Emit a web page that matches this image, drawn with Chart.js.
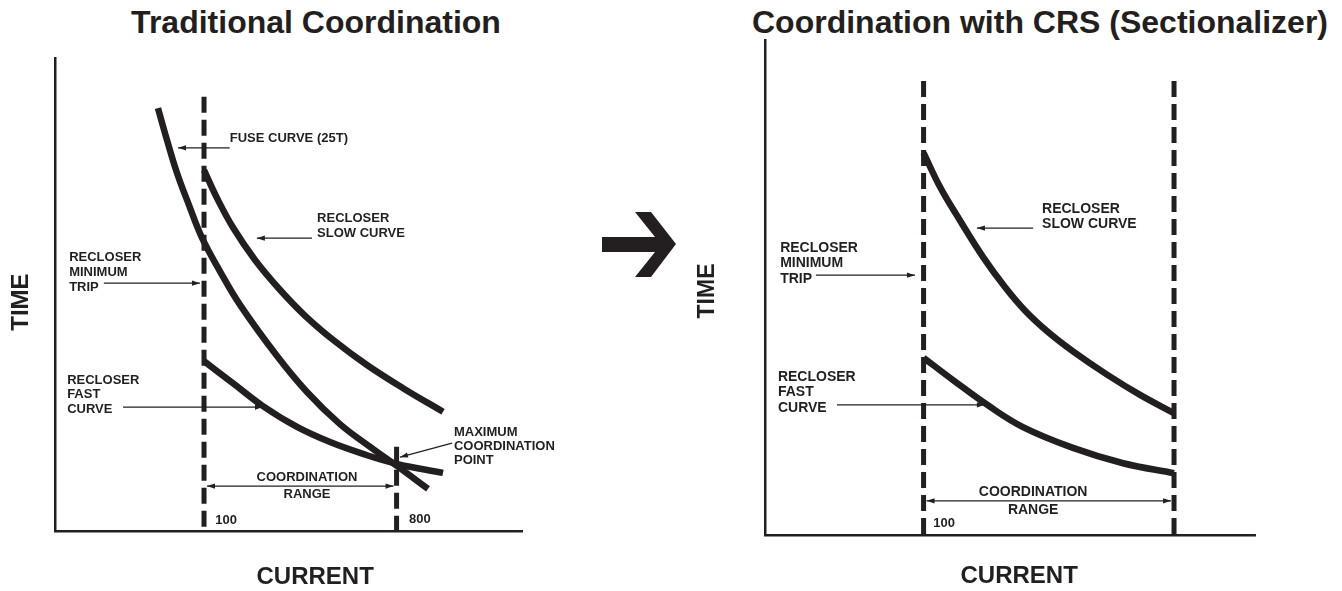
<!DOCTYPE html>
<html>
<head>
<meta charset="utf-8">
<title>Traditional Coordination / Coordination with CRS</title>
<script src="https://cdn.jsdelivr.net/npm/chart.js@4.4.1/dist/chart.umd.min.js"></script>
<style>
  html, body { margin: 0; padding: 0; background: #fff; }
  body { width: 1342px; height: 591px; position: relative; overflow: hidden;
         font-family: "Liberation Sans", Arial, Helvetica, sans-serif; color: #231f20; }
  .ttl { position: absolute; top: 6px; line-height: 32px; font-weight: bold; font-size: 32px;
         white-space: nowrap; transform: translateX(-50%); margin: 0; }
  #ttlA { left: 316px; }
  #ttlB { left: 1040px; }
  canvas { position: absolute; top: 0; }
  #chartA { left: 0; }
  #chartB { left: 671px; }
  #bigArrow { position: absolute; left: 0; top: 0; z-index: 2; }
</style>
</head>
<body>
<div class="ttl" id="ttlA">Traditional Coordination</div>
<div class="ttl" id="ttlB">Coordination with CRS (Sectionalizer)</div>
<canvas id="chartA" width="671" height="591"></canvas>
<canvas id="chartB" width="671" height="591"></canvas>
<svg id="bigArrow" width="1342" height="591">
  <polygon fill="#231f20" points="602,237 655,237 635,212 651,212 676,244 651,277 635,277 655,252 602,252"/>
</svg>
<script>
// ---- data: current (A, log axis) and time (% of axis height) ----
// left panel, traditional coordination
const fuseCurrentA = [60.8, 67.0, 74.7, 85.0, 98, 118.8, 147.5, 220, 304, 434, 601, 800, 1123];
const fuseTimeA    = [89.4, 82.7, 75.7, 68.9, 61.9, 54.9, 47.8, 37.0, 29.4, 22.6, 17.8, 13.8, 8.9];
const slowCurrentA = [100, 115, 137, 173.5, 227, 298, 411, 581, 858, 1321];
const slowTimeA    = [76.3, 70.4, 64.1, 57.3, 51.0, 45.5, 40.1, 35.1, 30.2, 25.2];
const fastCurrentA = [100, 137, 189, 273, 390, 557, 800, 1321];
const fastTimeA    = [35.9, 31.2, 26.4, 22.0, 18.8, 16.3, 14.2, 12.3];
const markCurrentA = [100, 800];
const markTopA     = [91.8, 17.8];

// right panel, with CRS sectionalizer
const slowCurrentB = [100, 119.5, 148, 190, 241, 300, 384, 503, 727, 1039, 1500];
const slowTimeB    = [77.2, 70.3, 63.6, 56.2, 50.1, 45.3, 41.0, 37.1, 32.4, 28.3, 24.6];
const fastCurrentB = [100, 137.5, 199, 293, 503, 865, 1500];
const fastTimeB    = [35.8, 31.3, 26.3, 21.8, 17.6, 14.5, 12.5];
const markCurrentB = [100, 1500];
const markTopB     = [91.7, 91.7];

const INK = '#231f20';
const FONT = '"Liberation Sans", Arial, Helvetica, sans-serif';

function curve(xs, ts) {
  return {
    data: xs.map((x, i) => ({ x: x, y: ts[i] })),
    borderColor: INK, borderWidth: 6.5, pointRadius: 0,
    tension: 0.4, borderCapStyle: 'butt', fill: false
  };
}

function markers(xs, tops) {
  return xs.map((x, i) => ({
    data: [{ x: x, y: tops[i] }, { x: x, y: 0 }],
    borderColor: INK, borderWidth: 5, borderDash: [16, 7],
    pointRadius: 0, borderCapStyle: 'butt', fill: false
  }));
}

function axes(xMin, xMax) {
  const common = {
    grid: { display: false, drawTicks: false },
    ticks: { display: false },
    border: { display: true, color: INK, width: 2.5 }
  };
  return {
    x: Object.assign({ type: 'logarithmic', min: xMin, max: xMax }, common),
    y: Object.assign({ type: 'linear', min: 0, max: 100 }, common)
  };
}

// labels and pointer arrows, placed in data units
const notesPlugin = {
  id: 'notes',
  afterDraw(chart, args, opts) {
    const ctx = chart.ctx;
    const X = v => chart.scales.x.getPixelForValue(v);
    const Y = v => chart.scales.y.getPixelForValue(v);
    ctx.save();
    ctx.fillStyle = INK;
    ctx.strokeStyle = INK;
    ctx.textBaseline = 'middle';

    (opts.texts || []).forEach(n => {
      ctx.font = 'bold ' + n.size + 'px ' + FONT;
      ctx.textAlign = n.align || 'left';
      const x0 = X(n.at[0]), y0 = Y(n.at[1]);
      if (n.rotate) {
        ctx.save();
        ctx.translate(x0, y0);
        ctx.rotate(-Math.PI / 2);
        ctx.fillText(n.lines[0], 0, 0);
        ctx.restore();
        return;
      }
      n.lines.forEach((s, i) => ctx.fillText(s, x0, y0 + i * (n.lh || 0)));
    });

    function head(x, y, ang) {
      const L = 8, W = 2.6;
      ctx.beginPath();
      ctx.moveTo(x, y);
      ctx.lineTo(x - L * Math.cos(ang) + W * Math.sin(ang), y - L * Math.sin(ang) - W * Math.cos(ang));
      ctx.lineTo(x - L * Math.cos(ang) - W * Math.sin(ang), y - L * Math.sin(ang) + W * Math.cos(ang));
      ctx.closePath();
      ctx.fill();
    }

    ctx.lineWidth = 1.3;
    (opts.arrows || []).forEach(a => {
      let x1 = X(a.from[0]), y1 = Y(a.from[1]);
      let x2 = X(a.to[0]), y2 = Y(a.to[1]);
      const ang = Math.atan2(y2 - y1, x2 - x1);
      const inset = a.inset || 0;
      x1 += inset * Math.cos(ang); y1 += inset * Math.sin(ang);
      x2 -= inset * Math.cos(ang); y2 -= inset * Math.sin(ang);
      ctx.beginPath();
      ctx.moveTo(x1, y1);
      ctx.lineTo(x2, y2);
      ctx.stroke();
      head(x2, y2, ang);
      if (a.both) head(x1, y1, ang + Math.PI);
    });
    ctx.restore();
  }
};

function baseOptions(xMin, xMax, padding, notes) {
  return {
    responsive: false,
    animation: false,
    events: [],
    layout: { padding: padding },
    scales: axes(xMin, xMax),
    plugins: { legend: { display: false }, tooltip: { enabled: false }, notes: notes }
  };
}

new Chart(document.getElementById('chartA'), {
  type: 'line',
  plugins: [notesPlugin],
  data: {
    datasets: markers(markCurrentA, markTopA).concat([
      curve(fuseCurrentA, fuseTimeA),
      curve(slowCurrentA, slowTimeA),
      curve(fastCurrentA, fastTimeA)
    ])
  },
  options: baseOptions(20, 3100, { left: 55, top: 58, right: 149, bottom: 60 }, {
    texts: [
      { at: [132, 83.1], lines: ['FUSE CURVE (25T)'], size: 13 },
      { at: [339, 66.0], lines: ['RECLOSER', 'SLOW CURVE'], size: 13, lh: 15 },
      { at: [23.3, 57.9], lines: ['RECLOSER', 'MINIMUM', 'TRIP'], size: 13, lh: 15 },
      { at: [22.8, 31.9], lines: ['RECLOSER', 'FAST', 'CURVE'], size: 13, lh: 14.5 },
      { at: [1487, 20.9], lines: ['MAXIMUM', 'COORDINATION', 'POINT'], size: 13, lh: 14 },
      { at: [304, 11.4], lines: ['COORDINATION', 'RANGE'], size: 13, lh: 17, align: 'center' },
      { at: [113, 2.3], lines: ['100'], size: 13 },
      { at: [915, 2.5], lines: ['800'], size: 13 },
      { at: [13.9, 48.4], lines: ['TIME'], size: 24, rotate: true, align: 'center' },
      { at: [332, -9.7], lines: ['CURRENT'], size: 24, align: 'center' }
    ],
    arrows: [
      { from: [132, 81.0], to: [75.5, 81.0] },
      { from: [321, 61.9], to: [177, 61.9] },
      { from: [33.9, 52.4], to: [95.7, 52.4] },
      { from: [41.7, 26.2], to: [189, 26.2] },
      { from: [1456, 18.6], to: [830, 15.6] },
      { from: [100, 9.5], to: [800, 9.5], both: true, inset: 3 }
    ]
  })
});

new Chart(document.getElementById('chartB'), {
  type: 'line',
  plugins: [notesPlugin],
  data: {
    datasets: markers(markCurrentB, markTopB).concat([
      curve(slowCurrentB, slowTimeB),
      curve(fastCurrentB, fastTimeB)
    ])
  },
  options: baseOptions(18, 3600, { left: 94, top: 40, right: 87, bottom: 56 }, {
    texts: [
      { at: [360, 65.9], lines: ['RECLOSER', 'SLOW CURVE'], size: 14, lh: 15 },
      { at: [21.2, 58.0], lines: ['RECLOSER', 'MINIMUM', 'TRIP'], size: 14, lh: 15.5 },
      { at: [20.7, 31.9], lines: ['RECLOSER', 'FAST', 'CURVE'], size: 14, lh: 15.5 },
      { at: [327, 8.7], lines: ['COORDINATION', 'RANGE'], size: 14, lh: 18, align: 'center' },
      { at: [111, 2.4], lines: ['100'], size: 13 },
      { at: [9.72, 49.3], lines: ['TIME'], size: 23, rotate: true, align: 'center' },
      { at: [281, -8.3], lines: ['CURRENT'], size: 24, align: 'center' }
    ],
    arrows: [
      { from: [327, 62.0], to: [178, 62.0] },
      { from: [31.2, 52.5], to: [91.1, 52.5] },
      { from: [39.2, 26.3], to: [194, 26.3] },
      { from: [100, 6.9], to: [1500, 6.9], both: true, inset: 3 }
    ]
  })
});
</script>
</body>
</html>
